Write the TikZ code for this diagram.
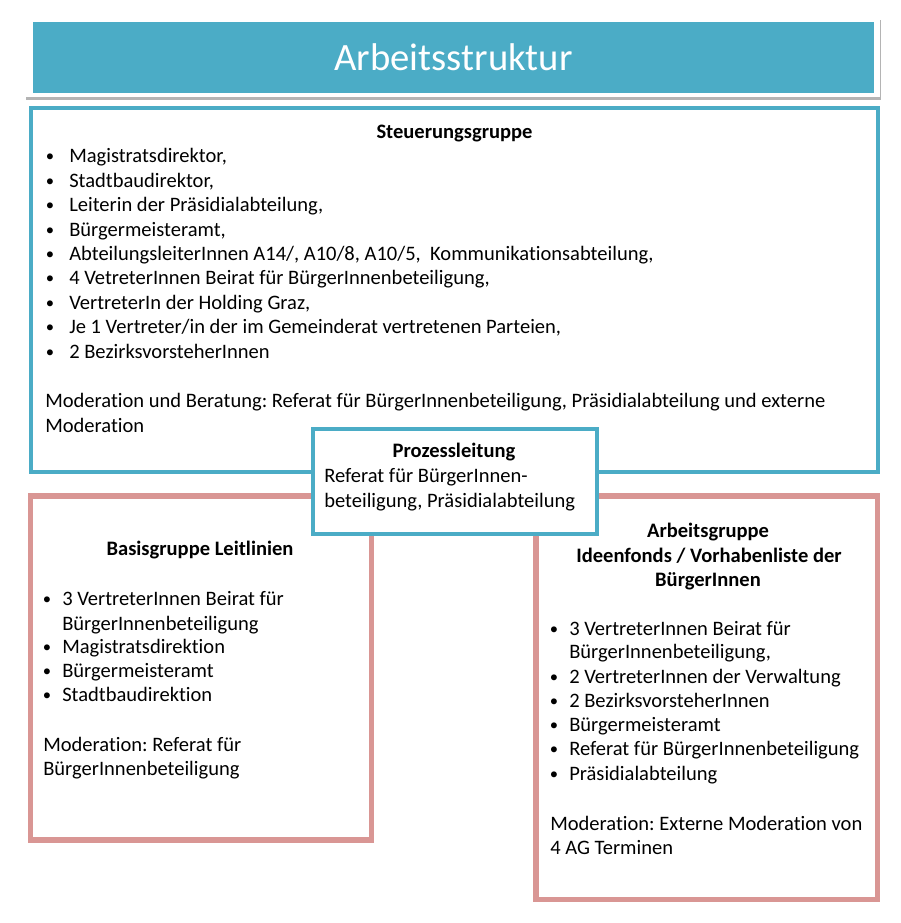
\documentclass[tikz,border=0pt]{standalone}
\usepackage{fontspec}
\setmainfont{Carlito}[Ligatures=NoCommon]
\definecolor{tealc}{RGB}{75,172,198}
\definecolor{pinkc}{RGB}{217,150,148}
\definecolor{shadowc}{RGB}{180,180,180}
\tikzset{
  txt/.style={inner sep=0pt, anchor=base west, font=\fontsize{15.4}{18}\selectfont},
  hd/.style={inner sep=0pt, anchor=base, font=\fontsize{15.4}{18}\selectfont\bfseries},
  bul/.style={inner sep=0pt, anchor=base, font=\fontsize{12.5}{15}\selectfont},
  titletxt/.style={inner sep=0pt, anchor=base, text=white, font=\fontsize{29}{34}\selectfont},
  tealbox/.style={draw=tealc, line width=3pt},
  pinkbox/.style={draw=pinkc, line width=4.1pt},
}
\frenchspacing
\begin{document}
\frenchspacing
\begin{tikzpicture}[x=0.75pt,y=-0.75pt]
\useasboundingbox (0,0) rectangle (900,923);
% banner
\fill[shadowc] (26,20) rectangle (881,100);
\fill[white] (25,17) rectangle (880,97);
\fill[tealc] (33,22) rectangle (874,93);
\node[titletxt] (title) at (453.5,71) {Arbeitsstruktur};
% boxes
\draw[tealbox] (31,108) rectangle (878,472);
\draw[pinkbox] (30.7,496) rectangle (371.5,840);
\draw[pinkbox] (536,496) rectangle (877.5,899.7);
\draw[tealbox, fill=white] (313,429) rectangle (597,534);
% Steuerungsgruppe
\node[hd] (sth) at (454.5,139) {Steuerungsgruppe};
\foreach \t [count=\i] in {{Magistratsdirektor,},{Stadtbaudirektor,},{Leiterin der Präsidialabteilung,},{Bürgermeisteramt,},{AbteilungsleiterInnen A14/, A10/8, A10/5, \ Kommunikationsabteilung,},{4 VetreterInnen Beirat für BürgerInnenbeteiligung,},{VertreterIn der Holding Graz,},{Je 1 Vertreter/in der im Gemeinderat vertretenen Parteien,},{2 BezirksvorsteherInnen}}{
  \node[bul] (sb\i) at (50,{162+24.4*(\i-1)}) {•};
  \node[txt] (st\i) at (69,{163+24.4*(\i-1)}) {\t};
}
\node[txt] (sm1) at (45,407) {Moderation und Beratung: Referat für BürgerInnenbeteiligung, Präsidialabteilung und externe};
\node[txt] (sm2) at (45,432) {Moderation};
% Prozessleitung
\node[hd] (ph) at (454,457) {Prozessleitung};
\node[txt] (p1) at (324,482) {Referat für BürgerInnen-};
\node[txt] (p2) at (324,507) {beteiligung, Präsidialabteilung};
% Basisgruppe
\node[hd] (bh) at (200,555) {Basisgruppe Leitlinien};
\node[bul] (bb1) at (47,604) {•};
\node[txt] (bt1) at (62,605) {3 VertreterInnen Beirat für};
\node[txt] (bt1b) at (62,630) {BürgerInnenbeteiligung};
\node[bul] (bb2) at (47,652) {•};
\node[txt] (bt2) at (62,653) {Magistratsdirektion};
\node[bul] (bb3) at (47,676) {•};
\node[txt] (bt3) at (62,677) {Bürgermeisteramt};
\node[bul] (bb4) at (47,700) {•};
\node[txt] (bt4) at (62,701) {Stadtbaudirektion};
\node[txt] (bm1) at (43,751) {Moderation: Referat für};
\node[txt] (bm2) at (43,775) {BürgerInnenbeteiligung};
% Arbeitsgruppe
\node[hd] (ah1) at (708,537) {Arbeitsgruppe};
\node[hd] (ah2) at (709,562) {Ideenfonds / Vorhabenliste der};
\node[hd] (ah3) at (708,586) {BürgerInnen};
\node[bul] (ab1) at (554,634) {•};
\node[txt] (at1) at (569,635) {3 VertreterInnen Beirat für};
\node[txt] (at1b) at (569,658) {BürgerInnenbeteiligung,};
\foreach \t [count=\i] in {{2 VertreterInnen der Verwaltung},{2 BezirksvorsteherInnen},{Bürgermeisteramt},{Referat für BürgerInnenbeteiligung},{Präsidialabteilung}}{
  \node[bul] (abx\i) at (554,{682+24.3*(\i-1)}) {•};
  \node[txt] (atx\i) at (569,{683+24.3*(\i-1)}) {\t};
}
\node[txt] (am1) at (550,830) {Moderation: Externe Moderation von};
\node[txt] (am2) at (550,854) {4 AG Terminen};
\end{tikzpicture}
\end{document}
